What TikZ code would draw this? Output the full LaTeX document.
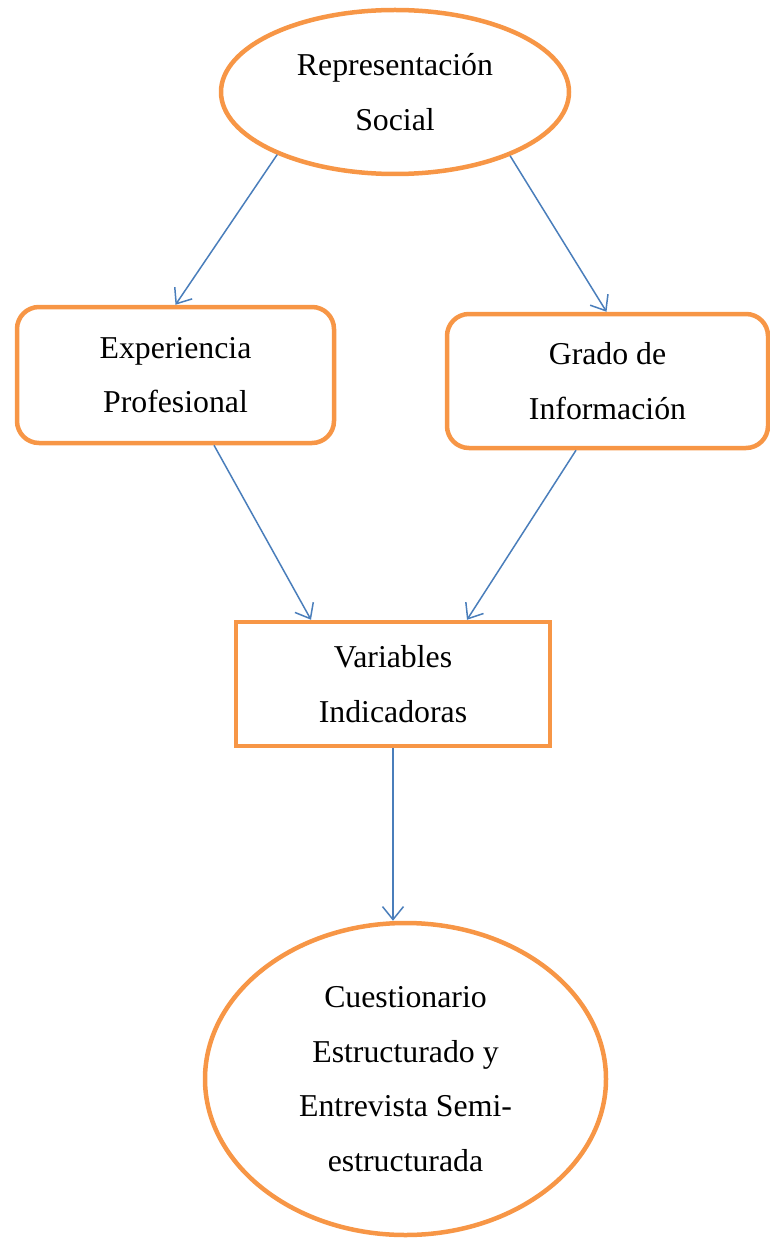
\documentclass[tikz,border=0pt]{standalone}
\usepackage{fontspec}
\setmainfont{Liberation Serif}
\usetikzlibrary{shapes.geometric,arrows.meta}
\definecolor{boxorange}{HTML}{F79646}
\definecolor{arrowblue}{HTML}{4A7EBB}
\tikzset{
  txt/.style={align=center,font=\fontsize{31.8}{54.5}\selectfont,text=black},
  ovalbox/.style={txt,ellipse,draw=boxorange,line width=4.5pt,inner sep=0pt},
  roundbox/.style={txt,rectangle,rounded corners=22pt,draw=boxorange,line width=4.5pt,inner sep=0pt},
  plainbox/.style={txt,rectangle,draw=boxorange,line width=4.5pt,inner sep=0pt},
  link/.style={draw=arrowblue,line width=1.5pt,-{Straight Barb[length=13pt,width=21pt,line width=1.5pt]}}
}
\begin{document}
\begin{tikzpicture}[x=1pt,y=1pt]
\useasboundingbox (0,0) rectangle (770,-1238);
\node[ovalbox,minimum width=348pt,minimum height=164pt] (rep) at (395,-92) {Representación\\Social};
\node[roundbox,minimum width=317pt,minimum height=136pt] (exp) at (175.5,-375) {Experiencia\\Profesional};
\node[roundbox,minimum width=321pt,minimum height=134pt] (gra) at (607.5,-381) {Grado de\\Información};
\node[plainbox,minimum width=314pt,minimum height=124pt] (var) at (393,-684) {Variables\\Indicadoras};
\node[ovalbox,minimum width=401pt,minimum height=312pt] (cue) at (405.5,-1079) {Cuestionario\\Estructurado y\\Entrevista Semi-\\estructurada};
\draw[link] (rep.208) -- (exp.north);
\draw[link] (rep.-29) -- ([xshift=-1pt]gra.north);
\draw[link] ([xshift=38.5pt]exp.south) -- ([xshift=-82pt]var.north);
\draw[link] ([xshift=-31.5pt]gra.south) -- ([xshift=74pt]var.north);
\draw[link] (var.south) -- (var.south |- cue.north);
\end{tikzpicture}
\end{document}
